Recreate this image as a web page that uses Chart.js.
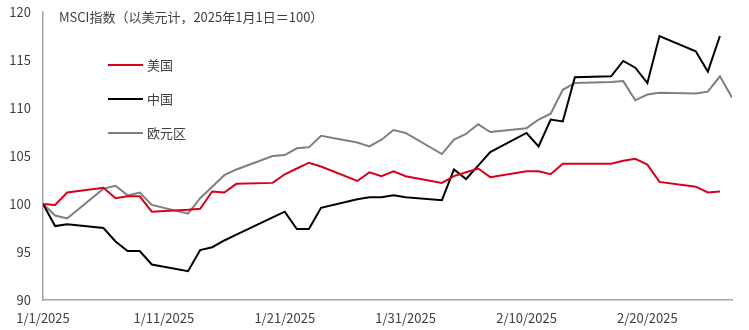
<!DOCTYPE html>
<html>
<head>
<meta charset="utf-8">
<script src="https://cdn.jsdelivr.net/npm/chart.js@4/dist/chart.umd.min.js"></script>
<style>
  html, body { margin: 0; padding: 0; background: #fff; }
  #wrap { position: relative; width: 749px; height: 330px; }
</style>
</head>
<body>
<div id="wrap"><canvas id="chart"></canvas></div>
<script>
// ============================
// DATA
// ============================
const title = "MSCI指数（以美元计，2025年1月1日＝100）";

const dates = [
  "2025-01-01","2025-01-02","2025-01-03","2025-01-06","2025-01-07","2025-01-08","2025-01-09","2025-01-10",
  "2025-01-13","2025-01-14","2025-01-15","2025-01-16","2025-01-17","2025-01-20","2025-01-21","2025-01-22",
  "2025-01-23","2025-01-24","2025-01-27","2025-01-28","2025-01-29","2025-01-30","2025-01-31",
  "2025-02-03","2025-02-04","2025-02-05","2025-02-06","2025-02-07","2025-02-10","2025-02-11","2025-02-12",
  "2025-02-13","2025-02-14","2025-02-17","2025-02-18","2025-02-19","2025-02-20","2025-02-21",
  "2025-02-24","2025-02-25","2025-02-26","2025-02-27"
];

const usa = [
  100, 99.9, 101.2, 101.7, 100.6, 100.8, 100.8, 99.2,
  99.4, 99.5, 101.3, 101.2, 102.1, 102.2, 103.1, 103.7,
  104.3, 103.9, 102.4, 103.3, 102.9, 103.4, 102.9,
  102.2, 102.9, 103.3, 103.7, 102.8, 103.4, 103.4, 103.1,
  104.2, 104.2, 104.2, 104.5, 104.7, 104.1, 102.3,
  101.8, 101.2, 101.3
];

const china = [
  100, 97.7, 97.9, 97.5, 96.1, 95.1, 95.1, 93.7,
  93.0, 95.2, 95.5, 96.2, 96.8, 98.6, 99.2, 97.4,
  97.4, 99.6, 100.5, 100.7, 100.7, 100.9, 100.7,
  100.4, 103.6, 102.6, 104.0, 105.4, 107.4, 106.0, 108.8,
  108.6, 113.2, 113.3, 114.9, 114.2, 112.6, 117.5,
  115.9, 113.8, 117.5
];

const euro = [
  100, 98.8, 98.5, 101.6, 101.9, 100.9, 101.2, 99.9,
  99.0, 100.6, 101.8, 103.0, 103.6, 105.0, 105.1, 105.8,
  105.9, 107.1, 106.4, 106.0, 106.7, 107.7, 107.4,
  105.2, 106.7, 107.3, 108.3, 107.5, 107.9, 108.8, 109.4,
  111.9, 112.6, 112.7, 112.8, 110.8, 111.4, 111.6,
  111.5, 111.7, 113.3, 111.1
];

const seriesNames = ["美国", "中国", "欧元区"];
const yTicks = [90, 95, 100, 105, 110, 115, 120];

// ============================
// UTILS
// ============================
const DAY = 24*60*60*1000;
const start = Date.parse(dates[0]);
const dayOf = d => (Date.parse(d) - start) / DAY;

function points(values){
  return values.map((v, i) => ({ x: dayOf(dates[i]), y: v }));
}

function dayLabel(v){
  const d = new Date(start + v*DAY);
  return (d.getUTCMonth()+1) + "/" + d.getUTCDate() + "/" + d.getUTCFullYear();
}

const FONT = '"Noto Sans CJK SC", "Noto Sans", sans-serif';
const TEXT = "#404040";

// ============================
// OVERLAY: title + legend
// ============================
const overlay = {
  id: "overlay",
  afterDraw(chart){
    const ctx = chart.ctx;
    const area = chart.chartArea;
    ctx.save();
    ctx.font = "13px " + FONT;
    ctx.fillStyle = TEXT;
    ctx.textBaseline = "middle";
    ctx.textAlign = "left";
    ctx.fillText(title, area.left + 16, 17);

    chart.data.datasets.forEach((ds, i) => {
      const y = 65 + i*34;
      ctx.strokeStyle = ds.borderColor;
      ctx.lineWidth = 2;
      ctx.beginPath();
      ctx.moveTo(108, y);
      ctx.lineTo(143, y);
      ctx.stroke();
      ctx.fillStyle = TEXT;
      ctx.fillText(ds.label, 147, y);
    });
    ctx.restore();
  }
};

// ============================
// CHART
// ============================
const line = (label, values, color) => ({
  label: label,
  data: points(values),
  borderColor: color,
  backgroundColor: color,
  borderWidth: 2,
  pointRadius: 0,
  tension: 0
});

new Chart(document.getElementById("chart"), {
  type: "line",
  data: {
    datasets: [
      line(seriesNames[0], usa, "#d9001b"),
      line(seriesNames[1], china, "#000000"),
      line(seriesNames[2], euro, "#7f7f7f")
    ]
  },
  options: {
    responsive: true,
    maintainAspectRatio: false,
    animation: false,
    layout: { padding: { top: 12, right: 17, left: 0, bottom: 0 } },
    plugins: {
      legend: { display: false },
      tooltip: { enabled: false }
    },
    scales: {
      x: {
        type: "linear",
        min: 0,
        max: dayOf(dates[dates.length-1]),
        grid: { display: false, drawTicks: false },
        border: { color: "#a6a6a6", width: 1.5 },
        afterBuildTicks: s => { s.ticks = [0,10,20,30,40,50].map(v => ({ value: v })); },
        afterFit: s => { s.height = 30; },
        ticks: {
          padding: 10,
          maxRotation: 0,
          color: TEXT,
          font: { family: FONT, size: 13 },
          callback: v => dayLabel(v)
        }
      },
      y: {
        min: 90,
        max: 120,
        grid: { display: false, drawTicks: false },
        border: { color: "#a6a6a6", width: 1.5 },
        afterBuildTicks: s => { s.ticks = yTicks.map(v => ({ value: v })); },
        afterFit: s => { s.width = 43; s.paddingTop = 0; s.paddingBottom = 0; },
        ticks: {
          padding: 12,
          color: TEXT,
          font: { family: FONT, size: 13, lineHeight: 1 }
        }
      }
    }
  },
  plugins: [overlay]
});
</script>
</body>
</html>
